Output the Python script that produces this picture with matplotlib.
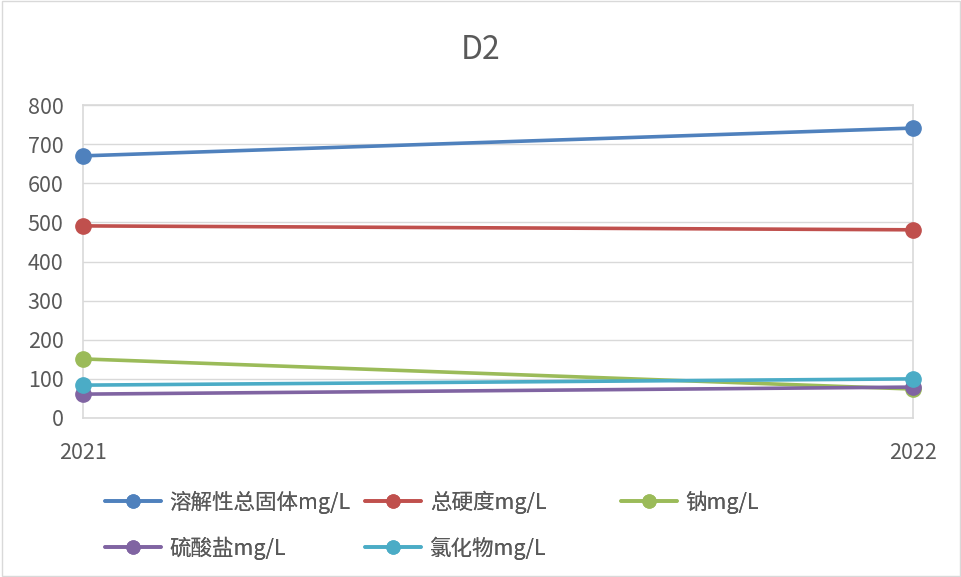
import matplotlib.pyplot as plt
from matplotlib.patches import Rectangle

plt.rcParams['font.family'] = ['Noto Sans CJK SC', 'DejaVu Sans']

# data
years = ['2021', '2022']
tds = [670, 741]          # 溶解性总固体
hardness = [491, 481]     # 总硬度
sodium = [151, 74]        # 钠
sulfate = [61, 79]        # 硫酸盐
chloride = [84, 100]      # 氯化物

labels = ['溶解性总固体mg/L', '总硬度mg/L', '钠mg/L', '硫酸盐mg/L', '氯化物mg/L']
colors = ['#4f81bd', '#c0504d', '#9bbb59', '#8064a2', '#4bacc6']
yticks = [0, 100, 200, 300, 400, 500, 600, 700, 800]

W, H = 962, 577
fig = plt.figure(figsize=(W / 100, H / 100), dpi=100)
ax = fig.add_axes([83 / W, 1 - 418 / H, (913 - 83) / W, (418 - 105) / H])

x = list(range(len(years)))
handles = []
for vals, lab, col in zip([tds, hardness, sodium, sulfate, chloride], labels, colors):
    h, = ax.plot(x, vals, color=col, lw=2.6, marker='o', ms=11, label=lab,
                 solid_capstyle='round', clip_on=False, zorder=3)
    handles.append(h)

ax.set_xlim(0, 1)
ax.set_ylim(0, 800)
ax.set_xticks(x)
ax.set_xticklabels(years)
ax.set_yticks(yticks)
ax.tick_params(axis='both', length=0, labelsize=15.5, colors='#595959')
ax.tick_params(axis='x', pad=17)
ax.tick_params(axis='y', pad=14)
ax.grid(axis='y', color='#d9d9d9', lw=1)
ax.set_axisbelow(True)
for s in ax.spines.values():
    s.set_color('#d9d9d9')
    s.set_linewidth(1.2)

fig.text(0.5, 1 - 50 / H, 'D2', ha='center', va='center', fontsize=23, color='#595959')

# legend: Excel-style equal width columns, filled row-wise
col_x = [105, 365, 621]
row_y = [502, 548]
for i, (h, lab) in enumerate(zip(handles, labels)):
    r, c = divmod(i, 3)
    leg = fig.legend([h], [lab], loc='center left',
                     bbox_to_anchor=(col_x[c] / W, 1 - row_y[r] / H),
                     frameon=False, fontsize=15.5, labelcolor='#595959',
                     handlelength=2.6, handletextpad=0.4, borderpad=0,
                     borderaxespad=0, markerscale=0.85)
    fig.add_artist(leg)

fig.add_artist(Rectangle((0.002, 0.002), 0.996, 0.996, transform=fig.transFigure,
                         fill=False, edgecolor='#d9d9d9', lw=1))

fig.savefig('out.png', dpi=100)
